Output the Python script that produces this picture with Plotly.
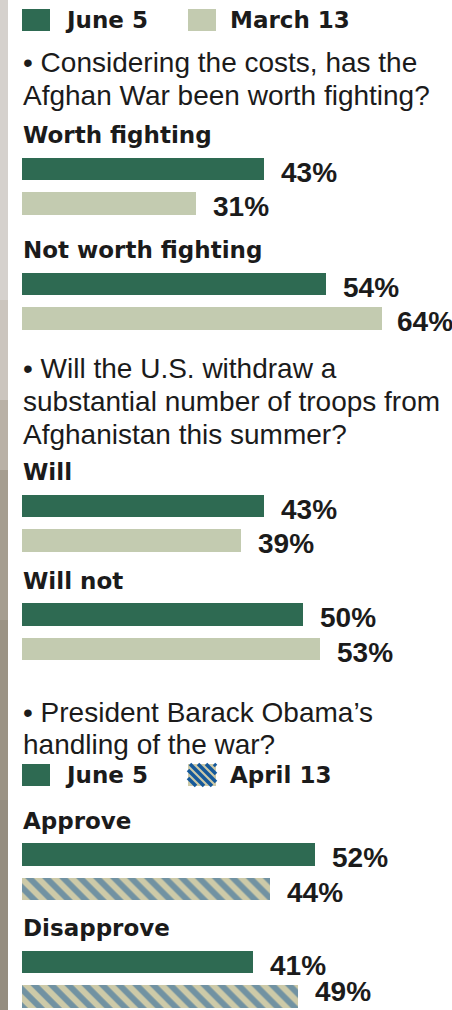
import plotly.graph_objects as go

# ---------------- data ----------------
legend_top = ["June 5", "March 13"]
legend_bottom = ["June 5", "April 13"]

q1_text = ["• Considering the costs, has the", "Afghan War been worth fighting?"]
q1_categories = ["Worth fighting", "Not worth fighting"]
q1_june5 = [43, 54]
q1_march13 = [31, 64]

q2_text = ["• Will the U.S. withdraw a", "substantial number of troops from", "Afghanistan this summer?"]
q2_categories = ["Will", "Will not"]
q2_june5 = [43, 50]
q2_march13 = [39, 53]

q3_text = ["• President Barack Obama’s", "handling of the war?"]
q3_categories = ["Approve", "Disapprove"]
q3_june5 = [52, 41]
q3_april13 = [44, 49]

# ---------------- style / layout ----------------
W, H = 452, 1010
X0 = 22            # pixel where bars start
PX_PER_PCT = 5.625
DARK = "#2e6a52"
LIGHT = "#c3cbb0"
KHAKI = "#cdcaa8"
BLUE = "#15599b"
TXT = "#1b1b1b"
BOLD = "DejaVu Sans, Arial, sans-serif"
REG = "Liberation Sans, Arial, sans-serif"
NUM = "Liberation Sans, Arial, sans-serif"
NUM_SIZE = 28
LABEL_GAP = 15

BAR_H = 22.5
PAIR_GAP = 34.5
LABEL_ABOVE = 34
group_first_bar = [169, 284, 506, 614.5, 854.5, 962]
question_line_y = [[62, 95], [368, 401, 434], [712, 744]]
legend_y = [20, 775]

fig = go.Figure()

groups = [
    (q1_categories, q1_june5, q1_march13, "light"),
    (q2_categories, q2_june5, q2_march13, "light"),
    (q3_categories, q3_june5, q3_april13, "hatch"),
]

annotations = []
gi = 0
for cats, first, second, kind in groups:
    ys1, ys2 = [], []
    for c in cats:
        yb = group_first_bar[gi]
        ys1.append(yb)
        ys2.append(yb + PAIR_GAP)
        annotations.append(dict(x=(X0 - 1) / W, xref="paper", y=yb - LABEL_ABOVE, yref="y",
                                text=c, showarrow=False, xanchor="left", yanchor="middle",
                                font=dict(family=BOLD, size=23, color=TXT, weight="bold")))
        gi += 1
    fig.add_trace(go.Bar(x=first, y=ys1, orientation="h", width=BAR_H, base=0,
                         marker=dict(color=DARK, line=dict(width=0)), showlegend=False, hoverinfo="skip"))
    if kind == "light":
        fig.add_trace(go.Bar(x=second, y=ys2, orientation="h", width=BAR_H, base=0,
                             marker=dict(color=LIGHT, line=dict(width=0)), showlegend=False, hoverinfo="skip"))
    else:
        fig.add_trace(go.Bar(x=second, y=ys2, orientation="h", width=BAR_H, base=0,
                             marker=dict(color=KHAKI, line=dict(width=0),
                                         pattern=dict(shape="\\", fgcolor=BLUE, bgcolor=KHAKI,
                                                      size=12, solidity=0.5)),
                             showlegend=False, hoverinfo="skip"))
    for vals, ys in ((first, ys1), (second, ys2)):
        for v, y in zip(vals, ys):
            bar_end = X0 + v * PX_PER_PCT
            est_w = 2.0 * NUM_SIZE
            gap = min(LABEL_GAP, W - 1 - est_w - bar_end)
            centre = min(y + 3, H - 0.66 * NUM_SIZE)   # keep the label box inside the page
            annotations.append(dict(x=v, y=y, xref="x", yref="y", text=f"{v}%", showarrow=False,
                                    xanchor="left", yanchor="middle", xshift=gap, yshift=-(centre - y),
                                    font=dict(family=NUM, size=NUM_SIZE, color=TXT, weight="bold")))

# question texts
for lines, ys in zip((q1_text, q2_text, q3_text), question_line_y):
    for t, y in zip(lines, ys):
        annotations.append(dict(x=(X0 - 1) / W, xref="paper", y=y, yref="y", text=t, showarrow=False,
                                xanchor="left", yanchor="middle",
                                font=dict(family=REG, size=28, color=TXT)))

# legends
shapes = []
for labels, ly, second_kind in ((legend_top, legend_y[0], "light"), (legend_bottom, legend_y[1], "hatch")):
    shapes.append(dict(type="rect", xref="paper", yref="y", x0=22 / W, x1=50 / W, y0=ly - 11, y1=ly + 11,
                       fillcolor=DARK, line=dict(width=0)))
    if second_kind == "light":
        shapes.append(dict(type="rect", xref="paper", yref="y", x0=188 / W, x1=216 / W, y0=ly - 11, y1=ly + 11,
                           fillcolor=LIGHT, line=dict(width=0)))
    else:
        shapes.append(dict(type="rect", xref="paper", yref="y", x0=188 / W, x1=216 / W, y0=ly - 11, y1=ly + 11,
                           fillcolor=KHAKI, line=dict(width=0)))
        for off in range(-14, 30, 8):
            xa, ya = 188 + off, ly - 11
            xb, yb = xa + 22, ly + 11
            if xa < 188:
                ya += 188 - xa
                xa = 188
            if xb > 216:
                yb -= xb - 216
                xb = 216
            if xb > xa:
                shapes.append(dict(type="line", xref="paper", yref="y", x0=xa / W, x1=xb / W, y0=ya, y1=yb,
                                   line=dict(color=BLUE, width=3.5)))
    for lab, lx in zip(labels, (63, 228)):
        annotations.append(dict(x=lx / W, xref="paper", y=ly, yref="y", text=lab, showarrow=False,
                                xanchor="left", yanchor="middle",
                                font=dict(family=BOLD, size=23, color=TXT, weight="bold")))

# left textured strip (decoration)
strip = [(0, 300, "#d5d1cd"), (300, 400, "#cbc5be"), (400, 470, "#b9b1a6"), (470, 620, "#a59d90"),
         (620, 800, "#9b9385"), (800, 1010, "#958d80")]
for a, b, col in strip:
    shapes.append(dict(type="rect", xref="paper", yref="y", x0=0, x1=8 / W, y0=a, y1=b,
                       fillcolor=col, line=dict(width=0), layer="below"))

fig.update_layout(
    width=W, height=H, margin=dict(l=0, r=0, t=0, b=0),
    paper_bgcolor="white", plot_bgcolor="white",
    xaxis=dict(range=[-X0 / PX_PER_PCT, (W - X0) / PX_PER_PCT], visible=False, fixedrange=True),
    yaxis=dict(range=[H, 0], visible=False, fixedrange=True),
    barmode="overlay", bargap=0,
    annotations=annotations, shapes=shapes,
    showlegend=False,
)

fig.write_html("out.html", config={"displayModeBar": False},
               post_script="document.body.style.margin='0';document.body.style.overflow='hidden';")
